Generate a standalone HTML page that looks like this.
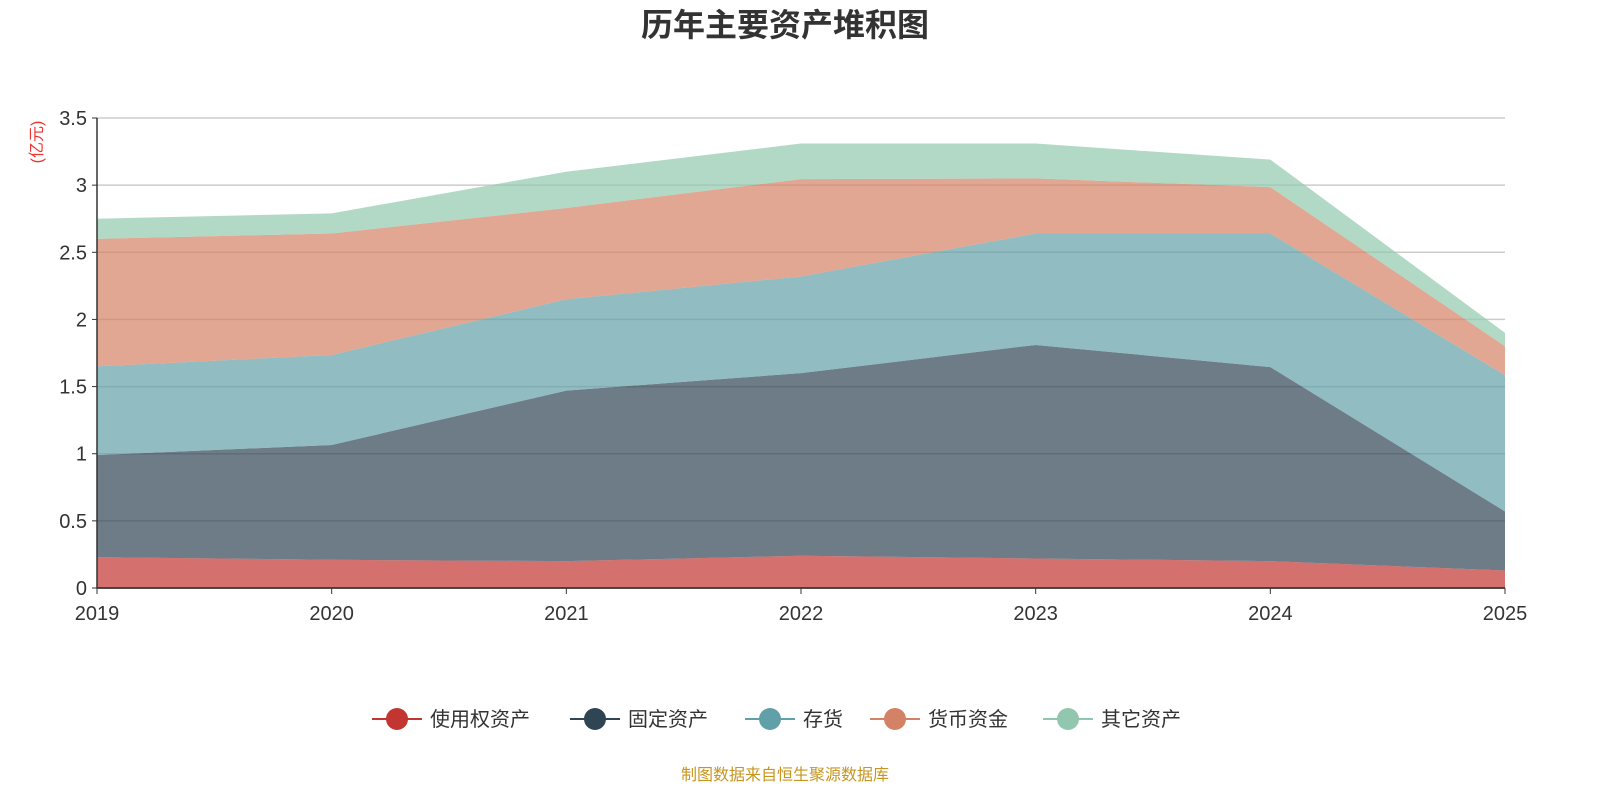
<!DOCTYPE html>
<html><head><meta charset="utf-8"><style>
body{margin:0;background:#fff;width:1600px;height:800px;overflow:hidden;font-family:"Liberation Sans","Noto Sans CJK SC",sans-serif}
</style></head><body>
<svg id="chart" width="1600" height="800">
<text x="785" y="36" text-anchor="middle" font-size="32" font-weight="bold" fill="#333">历年主要资产堆积图</text>
<text transform="translate(42,142) rotate(-90)" text-anchor="middle" font-size="16" fill="#e33">(亿元)</text>
<g id="grid"></g><g id="areas"></g><g id="axes"></g>
<g id="legend"></g>
<text x="785" y="780" text-anchor="middle" font-size="16" fill="#c8961e">制图数据来自恒生聚源数据库</text>
</svg>
<script>
const categories=["2019","2020","2021","2022","2023","2024","2025"];
const seriesNames=["使用权资产","固定资产","存货","货币资金","其它资产"];
const s1=[0.23,0.21,0.20,0.24,0.22,0.20,0.13];
const s2=[0.76,0.855,1.27,1.36,1.59,1.445,0.44];
const s3=[0.66,0.67,0.68,0.72,0.83,0.995,1.015];
const s4=[0.95,0.905,0.68,0.725,0.41,0.345,0.215];
const s5=[0.15,0.15,0.27,0.265,0.26,0.205,0.10];
const yTicks=[0,0.5,1,1.5,2,2.5,3,3.5];
const colors=["#c23531","#2f4554","#61a0a8","#d48265","#91c7ae"];
const NS="http://www.w3.org/2000/svg";
const x0=97,x1=1505,y0=588,yTop=118,ymax=3.5;
const X=i=>x0+i*(x1-x0)/(categories.length-1);
const Y=v=>y0-v*(y0-yTop)/ymax;
function mk(t,a,p){const e=document.createElementNS(NS,t);for(const k in a)e.setAttribute(k,a[k]);p.appendChild(e);return e;}
const grid=document.getElementById('grid'),axes=document.getElementById('axes'),areas=document.getElementById('areas'),leg=document.getElementById('legend');
yTicks.forEach(v=>{
 const l=mk('line',{x1:x0,x2:x1,y1:Y(v),y2:Y(v),stroke:v===0?'#333':'#ccc','stroke-width':1.5},grid);
 
 
 const t=mk('text',{x:x0-10,y:Y(v)+7,'text-anchor':'end','font-size':20,fill:'#333'},axes);t.textContent=String(v);
 
 
 mk('line',{x1:x0-5,x2:x0,y1:Y(v),y2:Y(v),stroke:'#333'},axes);
});
mk('line',{x1:x0,x2:x0,y1:yTop,y2:y0,stroke:'#333','stroke-width':1.5},axes);
mk('line',{x1:x0,x2:x1,y1:y0,y2:y0,stroke:'#333','stroke-width':1.5},axes);
categories.forEach((c,i)=>{
 mk('line',{x1:X(i),x2:X(i),y1:y0,y2:y0+6,stroke:'#333'},axes);
 const t=mk('text',{x:X(i),y:y0+32,'text-anchor':'middle','font-size':20,fill:'#333'},axes);t.textContent=c;
 
 
});
const series=[s1,s2,s3,s4,s5];
let base=categories.map(()=>0);
series.forEach((s,k)=>{
 const top=base.map((b,i)=>b+s[i]);
 let d=top.map((v,i)=>(i?'L':'M')+X(i)+','+Y(v)).join(' ');
 for(let i=categories.length-1;i>=0;i--)d+=' L'+X(i)+','+Y(base[i]);
 const p=mk('path',{d:d+'Z',fill:colors[k],'fill-opacity':0.7},areas);
 
 
 base=top;
});
const lx=[372,570,745,870,1043];
seriesNames.forEach((n,k)=>{
 const g=mk('g',{},leg);
 
 
 mk('line',{x1:lx[k],x2:lx[k]+50,y1:719,y2:719,stroke:colors[k],'stroke-width':2},g);
 mk('circle',{cx:lx[k]+25,cy:719,r:11,fill:colors[k]},g);
 const t=mk('text',{x:lx[k]+58,y:726,'font-size':20,fill:'#333'},g);t.textContent=n;
});
</script>
</body></html>
